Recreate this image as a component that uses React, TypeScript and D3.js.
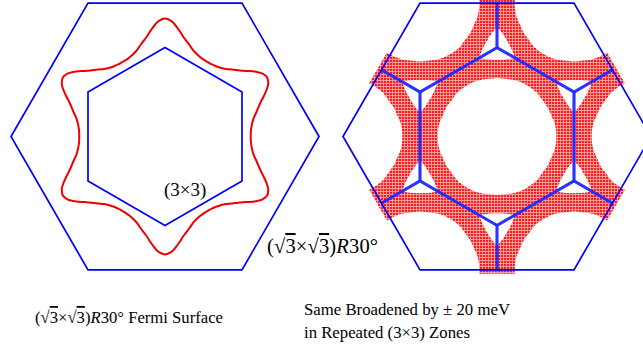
import React from "react";
import * as d3 from "d3";

// Fermi surface radius vs angle away from a lobe tip (one 30° sector, mirrored by symmetry)
const FERMI_PHI = [0, 3, 5, 8, 10, 12, 15, 18, 21, 24, 27, 30];
const FERMI_K = [0.766, 0.752, 0.73, 0.69, 0.663, 0.642, 0.615, 0.59, 0.574, 0.564, 0.558, 0.557];
const LOBE_ANGLES = [30, 90, 150, 210, 270, 330];

// (3x3) reciprocal lattice vectors used for the repeated-zone picture
const ZONE_SHIFTS: [number, number][] = [
  [0, 0], [1, 0], [0, 1], [-1, 1], [-1, 0], [0, -1], [1, -1],
  [1, 1], [-1, 2], [-2, 1], [-1, -1], [1, -2], [2, -1],
];

const BROADENING_MEV = 20;
const LEFT_CAPTION = "Fermi Surface";
const RIGHT_CAPTION = [`Same Broadened by \u00b1 ${BROADENING_MEV} meV`, "in Repeated (3\u00d73) Zones"];

const W = 643;
const H = 351;
const R = 154;
const CY = 136.5;
const LEFT_CX = 165;
const RIGHT_CX = 497;
const FONT = "Liberation Serif";

const rad = (deg: number) => (deg * Math.PI) / 180;

const fermiPoints = (): [number, number][] => {
  const pts: [number, number][] = [];
  const n = FERMI_PHI.length;
  LOBE_ANGLES.forEach((lobe) => {
    for (let i = n - 1; i >= 0; i--) {
      const a = rad(lobe - FERMI_PHI[i]);
      pts.push([FERMI_K[i] * Math.cos(a), FERMI_K[i] * Math.sin(a)]);
    }
    for (let i = 1; i < n - 1; i++) {
      const a = rad(lobe + FERMI_PHI[i]);
      pts.push([FERMI_K[i] * Math.cos(a), FERMI_K[i] * Math.sin(a)]);
    }
  });
  return pts;
};

const hexPoints = (r: number, startDeg: number): [number, number][] =>
  d3.range(6).map((i) => {
    const a = rad(startDeg + i * 60);
    return [r * Math.cos(a), r * Math.sin(a)];
  });

const shiftOf = ([n1, n2]: [number, number]): [number, number] => [n1 + n2 * 0.5, n2 * Math.sqrt(3) / 2];

const Sqrt3 = () => (
  <>
    {"\u221a"}
    <tspan style={{ textDecoration: "overline" }}>3</tspan>
  </>
);

const Recon = () => (
  <>
    (<Sqrt3 />{"\u00d7"}<Sqrt3 />)<tspan fontStyle="italic">R</tspan>30{"\u00b0"}
  </>
);

const Panel = ({ cx, repeated }: { cx: number; repeated: boolean }) => {
  const k = d3.scaleLinear().domain([0, 1]).range([0, R]);
  const closed = d3
    .line<[number, number]>()
    .x((d) => cx + k(d[0]))
    .y((d) => CY - k(d[1]))
    .curve(d3.curveLinearClosed);
  const smooth = d3
    .line<[number, number]>()
    .x((d) => cx + k(d[0]))
    .y((d) => CY - k(d[1]))
    .curve(d3.curveCatmullRomClosed.alpha(0.5));

  const fermi = fermiPoints();
  const outer = hexPoints(1, 0);
  const zone = hexPoints(1 / Math.sqrt(3), 30);
  const clipId = `clip-${cx}`;
  const bandClipId = `bandclip-${cx}`;

  if (!repeated) {
    return (
      <g>
        <path d={closed(outer) ?? ""} fill="none" stroke="#0000ff" strokeWidth={1.7} />
        <path d={closed(zone) ?? ""} fill="none" stroke="#0000ff" strokeWidth={1.7} />
        <path d={smooth(fermi) ?? ""} fill="none" stroke="#ee0000" strokeWidth={2} />
      </g>
    );
  }

  return (
    <g>
      <defs>
        <clipPath id={clipId}>
          <path d={closed(outer) ?? ""} />
        </clipPath>
        <clipPath id={bandClipId}>
          <path d={closed(hexPoints(1.03, 0)) ?? ""} />
        </clipPath>
      </defs>
      <g clipPath={`url(#${bandClipId})`}>
        {ZONE_SHIFTS.map((s, i) => {
          const [gx, gy] = shiftOf(s);
          const pts = fermi.map(([x, y]) => [x + gx, y + gy] as [number, number]);
          return (
            <path
              key={i}
              d={smooth(pts) ?? ""}
              fill="none"
              stroke="url(#hatch)"
              strokeWidth={18}
              strokeLinejoin="round"
            />
          );
        })}
      </g>
      <g clipPath={`url(#${clipId})`}>
        {ZONE_SHIFTS.map((s, i) => {
          const [gx, gy] = shiftOf(s);
          const pts = zone.map(([x, y]) => [x + gx, y + gy] as [number, number]);
          return (
            <path
              key={i}
              d={closed(pts) ?? ""}
              fill="none"
              stroke="#1f2cff"
              strokeOpacity={0.8}
              strokeWidth={2.8}
            />
          );
        })}
      </g>
      <path d={closed(outer) ?? ""} fill="none" stroke="#0000ff" strokeWidth={1.7} />
    </g>
  );
};

export default function App() {
  return (
    <svg
      width={W}
      height={H}
      viewBox={`0 0 ${W} ${H}`}
      style={{ position: "absolute", left: 0, top: 0, background: "#fff" }}
    >
      <defs>
        <pattern id="hatch" width={3} height={3} patternUnits="userSpaceOnUse">
          <rect width={3} height={3} fill="#ff9a9a" />
          <rect width={2} height={2} fill="#ff1a1a" />
        </pattern>
      </defs>
      <rect width={W} height={H} fill="#fff" />
      <Panel cx={LEFT_CX} repeated={false} />
      <Panel cx={RIGHT_CX} repeated={true} />

      <g fill="#000" fontFamily={FONT}>
        <text x={164} y={196} fontSize={19}>
          (3{"\u00d7"}3)
        </text>
        <text x={267} y={253} fontSize={20.5} textLength={111} lengthAdjust="spacing">
          <Recon />
        </text>
        <text x={35} y={323} fontSize={17.5} textLength={188} lengthAdjust="spacingAndGlyphs">
          <Recon /> {LEFT_CAPTION}
        </text>
        {RIGHT_CAPTION.map((t, i) => (
          <text
            key={i}
            x={304}
            y={315 + i * 23}
            fontSize={17.5}
            textLength={i === 0 ? 206 : 166}
            lengthAdjust="spacingAndGlyphs"
          >
            {t}
          </text>
        ))}
      </g>
    </svg>
  );
}
